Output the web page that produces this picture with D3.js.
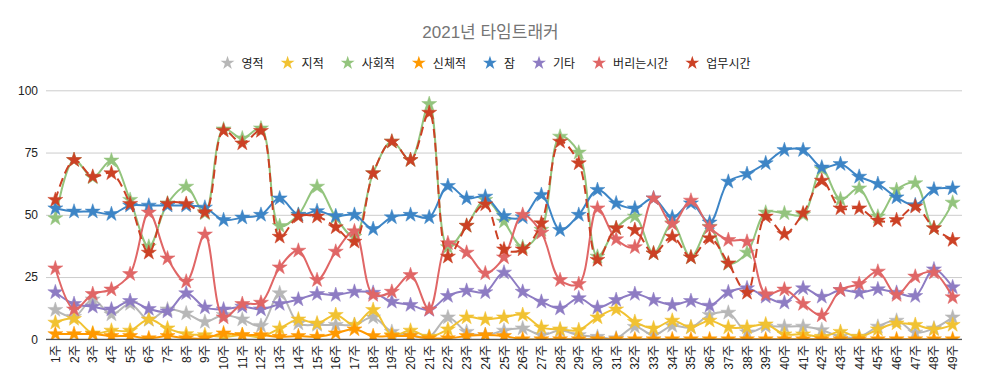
<!DOCTYPE html>
<html><head><meta charset="utf-8">
<script src="https://cdn.jsdelivr.net/npm/d3@7"></script>
<style>
html,body{margin:0;padding:0;background:#fff;}
svg{display:block;font-family:"Liberation Sans",Arial,"Noto Sans CJK KR",sans-serif;}
</style></head>
<body><svg id="chart" width="981" height="391"></svg>
<script>
const title = "2021년 타임트래커";
const weeks = d3.range(1, 50).map(d => d + "주");
const yTicks = [0, 25, 50, 75, 100];
const seriesNames = ["영적", "지적", "사회적", "신체적", "잠", "기타", "버리는시간", "업무시간"];
const seriesColors = ["#b7b7b7", "#f1c232", "#93c47d", "#ff9900", "#3d85c6", "#8e7cc3", "#e06666", "#cc4125"];

const spiritual = [11.8,9,16,10,14.2,7.8,12,10.4,7,9.8,8,5.4,18.5,6.4,5.8,5.8,5.8,8.8,3,1.7,1,8.8,3,1.7,3.5,4.4,1.7,3.5,1.7,1,0.4,5,1.7,5.4,4.8,9.8,10.7,2.8,5.1,5.1,5.1,3.7,1,1,5.1,7.5,2.7,4.4,8.8];
const intellectual = [6.7,8.2,2.4,3.5,3.5,8,4.4,2.1,1.7,1,1.7,1,4.4,8,6.4,9.8,5.8,11.8,1.7,3.5,1,4,8.8,8,8.8,9.8,4.8,4,3.7,8.8,12,7,4.4,7.5,4.8,7.5,4.8,4.8,6,2,2,1,3,1,4,6.4,5.8,4,5.8];
const social = [48.6,72,65,71.8,56,37.2,54.6,61.3,50.6,84.3,80.7,84.7,45.5,50,61.3,49,41.2,66.7,79.4,72,94.5,37,45.6,56,47.3,37,44,81.4,75,33.2,44.6,49.3,34.5,46.6,32.9,45.2,30.3,34.8,50.9,50.6,50,68.3,56.2,60.6,49.3,60,62.7,44.6,54.9];
const physical = [2.1,2.1,2.1,1.3,1.3,0.4,1.3,0.4,0.4,2.4,1.7,1.7,1,1.3,1,2.4,4,1.3,1.3,1.3,0.4,0.4,1.3,1.7,1.3,0,0,0,0,0,0,0,0,0,0,0,0,0,0,0,0,0,0,0,0,0,0,0,0];
const sleep = [52.6,51.3,51.3,50.3,53.7,53.7,53.7,53.7,52.9,47.9,48.9,50,56.6,50,51.5,49.5,50,44.3,49,50,49,61.6,56.6,57.3,49.5,49,58,43.9,50,60,54.6,52.6,56.6,49,54.6,46.9,63.3,66.4,70.7,76,76,69,70.4,65.3,62.4,57,53.9,60.2,60.6];
const other = [18.9,14.2,13.1,12,15.4,12.2,11.2,18.5,12.8,12,13.1,12,14.2,16,18.2,17.8,19.1,18.7,15.1,13.8,11.8,17.4,19.5,18.9,26.8,19.1,15.1,12.4,16.5,12.7,15.8,18.2,15.8,13.8,15.4,13.5,18.9,20.5,17.1,14.7,20.5,17.1,19.8,18.7,20.1,18.7,17.4,28.1,20.9];
const wasted = [28.5,12,18.2,20,26.2,50.9,32.5,23.2,42.1,8.8,14.2,14.7,28.9,35.6,23.8,35.2,43.4,17.8,19.1,25.8,12,38.6,34.8,26.5,32.9,50,42.8,23.8,22.2,52.6,40.2,37,56.6,46.3,55.7,45,39.9,39.2,18.1,20,14.2,9.6,19.8,22.2,27.2,17.8,25.2,26.8,16.9];
const work = [56,72,65.3,66.7,54.4,34.8,54.4,54.4,51,83.8,78.7,83.7,41.2,49.3,49.3,45,39.2,66.7,79.4,72,91,33.2,45.6,54.2,36.1,36.1,46.6,79.4,70.7,31.9,44.6,43.9,34.5,41.2,32.9,40.6,30.5,18.7,49.3,42.3,50.6,63.7,52.6,52.6,47.7,47.9,53.3,44.6,39.9];

const seriesValues = [spiritual, intellectual, social, physical, sleep, other, wasted, work];
const dashed = [false,false,false,false,false,false,false,true];

const svg = d3.select("#chart");
const W = 981, H = 391;
const pLeft = 46, pRight = 962, pTop = 90.3, pBottom = 339.3;

const x = d3.scalePoint().domain(weeks).range([pLeft, pRight]).padding(0.5);
const y = d3.scaleLinear().domain([0, 100]).range([pBottom, pTop]);

svg.append("text").attr("x", W/2).attr("y", 38).attr("text-anchor", "middle")
  .attr("font-size", 17).attr("fill", "#757575").text(title);

const yAxis = d3.axisLeft(y).tickValues(yTicks).tickSize(-(pRight-pLeft)).tickPadding(8);
const gy = svg.append("g").attr("transform", `translate(${pLeft},0)`).call(yAxis);
gy.select(".domain").remove();
gy.selectAll(".tick line").attr("stroke", "#cccccc").attr("stroke-width", 1);
gy.selectAll(".tick text").attr("font-size", 12).attr("fill", "#222").attr("font-family", "Liberation Sans, Arial, sans-serif");

const xAxis = d3.axisBottom(x).tickSize(0).tickPadding(0);
const gx = svg.append("g").attr("transform", `translate(0,${pBottom})`).call(xAxis);
gx.select(".domain").remove();
gx.selectAll(".tick text")
  .attr("font-size", 12).attr("fill", "#222")
  .attr("font-family", "Liberation Sans, Arial, 'Noto Sans CJK KR', sans-serif")
  .attr("text-anchor", "end").attr("dy", null)
  .attr("transform", "translate(4,6) rotate(-90)")
  .attr("y", 0).attr("x", 0);

svg.append("clipPath").attr("id", "plotclip").append("rect")
  .attr("x", pLeft - 10).attr("y", pTop - 10).attr("width", pRight - pLeft + 20).attr("height", pBottom - pTop + 10);

const plot = svg.append("g").attr("clip-path", "url(#plotclip)");
const line = d3.line().x((d, i) => x(weeks[i])).y(d => y(d)).curve(d3.curveCatmullRom.alpha(0.5));
const star = d3.symbol().type(d3.symbolStar).size(70);

seriesValues.forEach((vals, si) => {
  const g = plot.append("g");
  g.append("path").datum(vals).attr("d", line).attr("fill", "none")
    .attr("stroke", seriesColors[si]).attr("stroke-width", 2)
    .attr("stroke-dasharray", dashed[si] ? "9,5" : null);
  g.selectAll("path.m").data(vals).enter().append("path").attr("class", "m")
    .attr("d", star).attr("transform", (d, i) => `translate(${x(weeks[i])},${y(d)})`)
    .attr("fill", seriesColors[si]).attr("stroke", seriesColors[si]).attr("stroke-opacity", 0.5).attr("stroke-width", 1);
});

svg.append("line").attr("x1", pLeft).attr("x2", pRight).attr("y1", pBottom).attr("y2", pBottom)
  .attr("stroke", "#333").attr("stroke-width", 1);

const lg = svg.append("g");
let cx = 0;
const items = [];
seriesNames.forEach((name, i) => {
  const it = lg.append("g");
  it.append("path").attr("d", d3.symbol().type(d3.symbolStar).size(60)).attr("fill", seriesColors[i]);
  const t = it.append("text").attr("x", 14).attr("y", 4.5).attr("font-size", 12).attr("fill", "#222").text(name);
  const w = t.node().getComputedTextLength();
  items.push({it, x: cx});
  cx += 14 + w + 24;
});
const totalW = cx - 24 + 6;
const startX = 486 - totalW / 2 + 6;
items.forEach(o => o.it.attr("transform", `translate(${startX + o.x},63)`));
</script></body></html>
